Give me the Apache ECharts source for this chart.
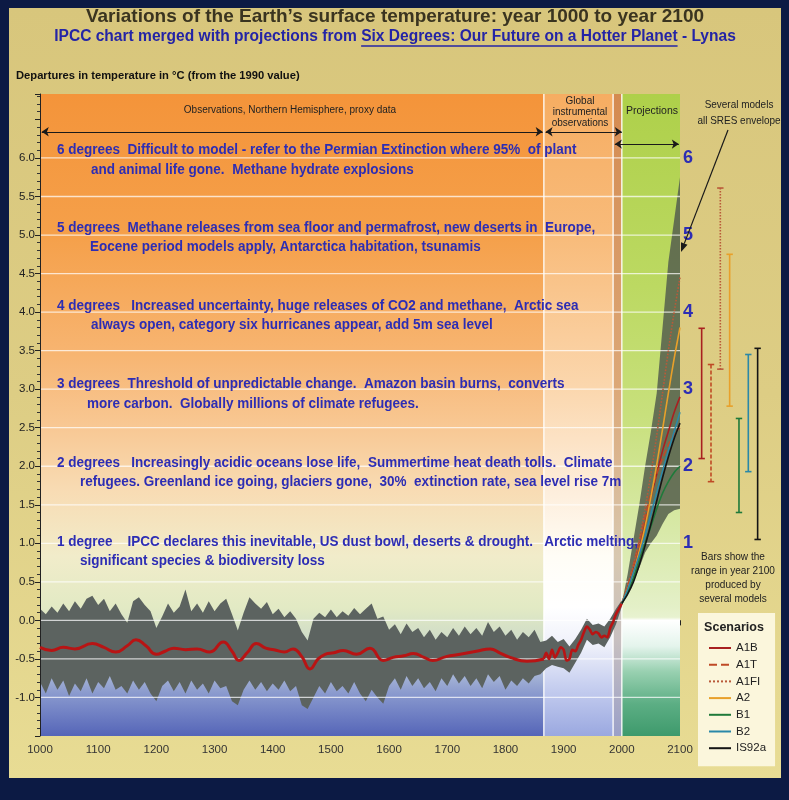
<!DOCTYPE html>
<html>
<head>
<meta charset="utf-8">
<title>Variations of the Earth's surface temperature</title>
<script src="https://cdn.jsdelivr.net/npm/echarts@6/dist/echarts.min.js"></script>
<style>
html,body{margin:0;padding:0;background:#0c1a44;}
#chart{width:789px;height:800px;}
</style>
</head>
<body>
<div id="chart"></div>
<script>
// ================= DATA =================
const yTickLabels = [-1.0,-0.5,0.0,0.5,1.0,1.5,2.0,2.5,3.0,3.5,4.0,4.5,5.0,5.5,6.0];
const degreeMarks = [1,2,3,4,5,6];

const regionStart = [1000, 1866, 1985, 2000];
const regionEnd   = [1866, 1985, 2000, 2100];

// uncertainty / annual-variability band, 1000-2000 every 10 years
const bandYears = [
 1000,1010,1020,1030,1040,1050,1060,1070,1080,1090,
 1100,1110,1120,1130,1140,1150,1160,1170,1180,1190,
 1200,1210,1220,1230,1240,1250,1260,1270,1280,1290,
 1300,1310,1320,1330,1340,1350,1360,1370,1380,1390,
 1400,1410,1420,1430,1440,1450,1460,1470,1480,1490,
 1500,1510,1520,1530,1540,1550,1560,1570,1580,1590,
 1600,1610,1620,1630,1640,1650,1660,1670,1680,1690,
 1700,1710,1720,1730,1740,1750,1760,1770,1780,1790,
 1800,1810,1820,1830,1840,1850,1860,1870,1880,1890,
 1900,1910,1920,1930,1940,1950,1960,1970,1980,1990,
 2000];
const bandHigh = [
 0.15,0.08,0.18,0.10,0.22,0.12,0.25,0.15,0.28,0.32,
 0.20,0.28,0.12,0.22,0.08,-0.03,0.25,0.30,0.20,0.12,
 -0.10,0.05,0.22,0.10,0.18,0.40,0.12,0.22,0.10,0.25,
 0.12,0.22,0.28,0.08,-0.13,0.10,0.30,0.22,0.15,0.24,
 0.08,0.15,0.04,0.12,0.02,-0.15,-0.26,0.02,0.10,0.04,
 0.14,0.04,0.12,0.06,0.16,0.08,0.15,0.22,0.02,0.05,
 -0.12,-0.05,-0.18,-0.04,-0.15,-0.10,-0.22,-0.12,-0.25,-0.15,
 -0.22,-0.10,-0.20,-0.08,-0.18,-0.10,-0.20,-0.02,-0.15,-0.08,
 -0.20,-0.12,-0.25,-0.15,-0.22,-0.12,-0.28,-0.26,-0.20,-0.28,
 -0.24,-0.34,-0.24,-0.12,0.02,-0.06,-0.04,-0.08,0.02,0.15,
 0.26];
const bandLow = [
 -0.80,-0.95,-0.75,-0.90,-0.78,-0.98,-0.82,-0.92,-0.75,-0.95,
 -0.80,-0.88,-0.72,-0.90,-0.85,-0.95,-0.78,-0.90,-0.80,-0.95,
 -1.05,-0.85,-0.78,-0.92,-0.80,-0.95,-0.78,-0.90,-0.82,-0.95,
 -0.78,-0.88,-0.85,-1.05,-1.10,-0.90,-0.78,-0.90,-0.80,-0.92,
 -0.82,-0.90,-0.78,-0.92,-0.85,-1.10,-1.15,-1.00,-0.85,-0.95,
 -0.80,-0.92,-0.85,-0.95,-0.80,-0.95,-1.05,-0.90,-1.00,-1.08,
 -0.85,-0.75,-0.90,-0.72,-0.85,-0.75,-0.88,-0.80,-0.92,-0.75,
 -0.85,-0.70,-0.82,-0.72,-0.85,-0.75,-0.88,-0.70,-0.80,-0.72,
 -0.90,-0.78,-0.85,-0.75,-0.82,-0.72,-0.70,-0.62,-0.58,-0.60,
 -0.62,-0.68,-0.55,-0.42,-0.25,-0.32,-0.30,-0.35,-0.22,-0.05,
 0.18];

// smoothed northern-hemisphere proxy reconstruction
const proxyYears = [1000,1020,1040,1060,1090,1110,1130,1150,1165,1182,1200,1215,1230,1250,1270,1292,1315,1330,1342,1356,1372,1388,1402,1420,1435,1450,1464,1478,1490,1505,1521,1544,1567,1590,1607,1625,1642,1660,1675,1698,1722,1750,1774,1790,1808,1837,1866];
const proxyTemp  = [-0.35,-0.39,-0.35,-0.37,-0.30,-0.35,-0.41,-0.33,-0.25,-0.33,-0.44,-0.40,-0.36,-0.38,-0.37,-0.41,-0.28,-0.40,-0.52,-0.42,-0.30,-0.36,-0.38,-0.41,-0.37,-0.47,-0.63,-0.50,-0.44,-0.42,-0.39,-0.44,-0.36,-0.52,-0.48,-0.46,-0.43,-0.48,-0.52,-0.47,-0.44,-0.40,-0.37,-0.42,-0.48,-0.53,-0.50];

// global instrumental record
const instYears = [1866,1870,1875,1880,1885,1890,1895,1900,1905,1910,1915,1920,1925,1930,1935,1940,1945,1950,1955,1960,1965,1970,1975,1980,1985,1990,1995,2000];
const instTemp  = [-0.50,-0.42,-0.50,-0.38,-0.48,-0.42,-0.35,-0.38,-0.52,-0.50,-0.38,-0.40,-0.32,-0.25,-0.15,-0.08,-0.12,-0.18,-0.15,-0.17,-0.22,-0.20,-0.22,-0.10,-0.02,0.08,0.15,0.22];

// projections 2000-2100
const projYears = [2000,2010,2020,2030,2040,2050,2060,2070,2080,2090,2100];
const envHigh = [0.22,0.60,1.05,1.50,2.00,2.45,2.95,3.80,4.65,5.20,5.75];
const envLow  = [0.22,0.36,0.50,0.68,0.88,1.00,1.10,1.25,1.38,1.43,1.45];
const scenNames = ['A1B','A1T','A1FI','A2','B1','B2','IS92a'];
const projA1B   = [0.22,0.42,0.65,0.92,1.25,1.60,1.90,2.20,2.45,2.70,2.90];
const projA1T   = [0.22,0.45,0.72,1.02,1.35,1.65,1.90,2.10,2.28,2.42,2.50];
const projA1FI  = [0.22,0.45,0.72,1.05,1.45,1.90,2.40,2.95,3.50,4.00,4.45];
const projA2    = [0.22,0.40,0.62,0.90,1.22,1.60,2.02,2.48,2.95,3.40,3.80];
const projB1    = [0.22,0.36,0.55,0.78,1.00,1.22,1.45,1.65,1.80,1.92,2.00];
const projB2    = [0.22,0.40,0.62,0.85,1.10,1.38,1.66,1.94,2.20,2.45,2.70];
const projIS92a = [0.22,0.34,0.50,0.72,0.97,1.25,1.55,1.85,2.12,2.36,2.56];

// ranges in year 2100 (bars)
const rangeLow  = [2.10,1.80,3.26,2.78,1.40,1.93,1.05];
const rangeHigh = [3.79,3.32,5.61,4.75,2.62,3.45,3.53];

// ================= STYLE / LAYOUT =================
const FONT = '"Liberation Sans",Arial,sans-serif';
const BLUE = '#2d2db4';
const Y_MIN = -1.5, Y_MAX = 6.83;
const scenColors = ['#a82020','#bf4a26','#b95a3a','#e8a02a','#1f7a3a','#2a88a8','#151515'];
const scenDash   = ['solid','dashed','dotted','solid','solid','solid','solid'];
const projSeriesData = [projA1B, projA1T, projA1FI, projA2, projB1, projB2, projIS92a];

const G = echarts.graphic;
function vGrad(stops){ return new G.LinearGradient(0,0,0,1, stops.map(s=>({offset:s[0], color:s[1]}))); }
const regionFills = [
  vGrad([[0,'#f4943a'],[0.22,'#f5a04a'],[0.40,'#f7b470'],[0.52,'#f8c894'],[0.62,'#f8dcb4'],[0.72,'#f1ecca'],[0.80,'#e2eac4'],[0.85,'#cfdcc8'],[0.89,'#b4c2da'],[0.94,'#8494cc'],[1,'#5565b8']]),
  vGrad([[0,'#f6ad62'],[0.22,'#f8bb7a'],[0.46,'#fbd7ae'],[0.62,'#fdeedc'],[0.72,'#fffdf6'],[0.80,'#ffffff'],[0.86,'#eef0fa'],[0.92,'#c8d0f0'],[1,'#9aa8e0']]),
  vGrad([[0,'#d48a50'],[0.46,'#dca878'],[0.72,'#d8c8b0'],[0.85,'#c8c0c0'],[1,'#9aa0c8']]),
  vGrad([[0,'#aed04a'],[0.3,'#bcd962'],[0.5,'#c8e07c'],[0.68,'#d8e9a8'],[0.80,'#e4f0c8'],[0.815,'#e8f2d0'],[0.82,'#ffffff'],[0.86,'#e4f4ec'],[0.90,'#98d0b0'],[0.95,'#5cae84'],[1,'#3e9a6c']])
];

function polygonRenderer(xs, lo, hi, fill){
  return function(params, api){
    if (params.dataIndex !== 0) return null;
    const pts = [];
    for (let i=0;i<xs.length;i++) pts.push(api.coord([xs[i], hi[i]]));
    for (let i=xs.length-1;i>=0;i--) pts.push(api.coord([xs[i], lo[i]]));
    return {type:'polygon', shape:{points:pts}, style:{fill:fill}};
  };
}

const series = [];
series.push({
  type:'custom', name:'regions', z:1, silent:true, xAxisIndex:0, yAxisIndex:0,
  data: regionStart.map((s,i)=>[s, regionEnd[i]]),
  encode:{x:[0,1]},
  renderItem:function(params, api){
    const i = params.dataIndex;
    const p0 = api.coord([regionStart[i], Y_MAX]);
    const p1 = api.coord([regionEnd[i], Y_MIN]);
    const children = [{type:'rect', shape:{x:p0[0], y:p0[1], width:p1[0]-p0[0], height:p1[1]-p0[1]}, style:{fill:regionFills[i]}}];
    if (i > 0) children.push({type:'line', shape:{x1:p0[0], y1:p0[1], x2:p0[0], y2:p1[1]}, style:{stroke:'rgba(255,255,255,0.85)', lineWidth:1.5}});
    return {type:'group', children:children};
  }
});
series.push({
  type:'custom', name:'band', z:2, silent:true, xAxisIndex:0, yAxisIndex:0,
  data: bandYears.map((x,i)=>[x, bandLow[i], bandHigh[i]]),
  encode:{x:0, y:[1,2]},
  renderItem: polygonRenderer(bandYears, bandLow, bandHigh, '#5c6360')
});
series.push({
  type:'custom', name:'envelope', z:2, silent:true, xAxisIndex:0, yAxisIndex:0,
  data: projYears.map((x,i)=>[x, envLow[i], envHigh[i]]),
  encode:{x:0, y:[1,2]},
  renderItem: polygonRenderer(projYears, envLow, envHigh, 'rgba(88,98,78,0.88)')
});
series.push({
  type:'custom', name:'gridlines', z:3, silent:true, xAxisIndex:0, yAxisIndex:0,
  data: yTickLabels.map(v=>[1000, v]),
  encode:{x:0, y:1},
  renderItem:function(params, api){
    const v = yTickLabels[params.dataIndex];
    const a = api.coord([1000, v]), b = api.coord([2100, v]);
    return {type:'line', shape:{x1:a[0], y1:a[1], x2:b[0], y2:b[1]}, style:{stroke:'rgba(255,255,255,0.72)', lineWidth:1.3}};
  },
  markLine:{
    silent:true, symbol:['arrow','arrow'], symbolSize:7, animation:false,
    label:{show:false},
    lineStyle:{color:'#1a1a1a', width:1, type:'solid'},
    data:[
      [{coord:[1003,6.34]},{coord:[1864,6.34]}],
      [{coord:[1869,6.34]},{coord:[2000,6.34]}],
      [{coord:[1988,6.18]},{coord:[2098,6.18]}]
    ]
  }
});
series.push({
  type:'line', name:'proxy', z:5, silent:true, xAxisIndex:0, yAxisIndex:0,
  data: proxyYears.map((x,i)=>[x, proxyTemp[i]]),
  smooth:0.5, symbol:'none', lineStyle:{color:'#b81414', width:3}
});
series.push({
  type:'line', name:'instrumental', z:5, silent:true, xAxisIndex:0, yAxisIndex:0,
  data: instYears.map((x,i)=>[x, instTemp[i]]),
  smooth:0.3, symbol:'none', lineStyle:{color:'#b81414', width:2.6}
});
scenNames.forEach((n,k)=>{
  series.push({
    type:'line', name:n, z:5, silent:true, xAxisIndex:0, yAxisIndex:0,
    data: projYears.map((x,i)=>[x, projSeriesData[k][i]]),
    smooth:0.3, symbol:'none',
    itemStyle:{color:scenColors[k]},
    lineStyle:{color:scenColors[k], width:1.6, type:scenDash[k]}
  });
});
series.push({
  type:'custom', name:'ranges', z:5, silent:true, xAxisIndex:1, yAxisIndex:2,
  data: scenNames.map((n,i)=>[i, rangeLow[i], rangeHigh[i]]),
  encode:{x:0, y:[1,2]},
  renderItem:function(params, api){
    const i = params.dataIndex;
    const t = api.coord([i, rangeHigh[i]]), b = api.coord([i, rangeLow[i]]);
    const c = scenColors[i];
    const dash = scenDash[i]==='dashed' ? [4,2] : (scenDash[i]==='dotted' ? [1.5,1.5] : null);
    const cap = 3.2;
    return {type:'group', children:[
      {type:'line', shape:{x1:t[0],y1:t[1],x2:b[0],y2:b[1]}, style:{stroke:c, lineWidth:1.6, lineDash:dash}},
      {type:'line', shape:{x1:t[0]-cap,y1:t[1],x2:t[0]+cap,y2:t[1]}, style:{stroke:c, lineWidth:1.6}},
      {type:'line', shape:{x1:b[0]-cap,y1:b[1],x2:b[0]+cap,y2:b[1]}, style:{stroke:c, lineWidth:1.6}}
    ]};
  }
});

// ================= TEXT =================
const titleText = 'Variations of the Earth\u2019s surface temperature: year 1000 to year 2100';
const subPre = 'IPCC chart merged with projections from ';
const subLink = 'Six Degrees: Our Future on a Hotter Planet';
const subPost = ' - Lynas';
const yAxisTitle = 'Departures in temperature in \u00b0C (from the 1990 value)';
const annotations = [
  ['6 degrees  Difficult to model - refer to the Permian Extinction where 95%  of plant', 57, 150],
  ['and animal life gone.  Methane hydrate explosions', 91, 170],
  ['5 degrees  Methane releases from sea floor and permafrost, new deserts in  Europe,', 57, 228],
  ['Eocene period models apply, Antarctica habitation, tsunamis', 90, 247],
  ['4 degrees   Increased uncertainty, huge releases of CO2 and methane,  Arctic sea', 57, 306],
  ['always open, category six hurricanes appear, add 5m sea level', 91, 325],
  ['3 degrees  Threshold of unpredictable change.  Amazon basin burns,  converts', 57, 384],
  ['more carbon.  Globally millions of climate refugees.', 87, 404],
  ['2 degrees   Increasingly acidic oceans lose life,  Summertime heat death tolls.  Climate', 57, 463],
  ['refugees. Greenland ice going, glaciers gone,  30%  extinction rate, sea level rise 7m', 80, 482],
  ['1 degree    IPCC declares this inevitable, US dust bowl, deserts & drought.   Arctic melting,', 57, 542],
  ['significant species & biodiversity loss', 80, 561]
];

const TITLE_FONT = 'bold 19px ' + FONT;
const SUB_FONT = 'bold 15.8px ' + FONT;
const SUB_SCALE = 0.985;
const mctx = document.createElement('canvas').getContext('2d');
function textW(t, f){ mctx.font = f; return mctx.measureText(t).width; }
const subW = textW(subPre+subLink+subPost, SUB_FONT) * SUB_SCALE;
const subX0 = 395 - subW/2;
const ulX1 = subX0 + textW(subPre, SUB_FONT) * SUB_SCALE;
const ulX2 = ulX1 + textW(subLink, SUB_FONT) * SUB_SCALE;

function txt(t, x, y, font, fill, align, sx){
  return {type:'text', z:100, silent:true, x:x, y:y, scaleX:sx||1,
    style:{text:t, x:0, y:0, font:font, fill:fill, textAlign:align||'left', textVerticalAlign:'middle'}};
}
const graphics = [
  {type:'rect', z:-100, silent:true, shape:{x:9, y:8, width:772, height:770},
   style:{fill:vGrad([[0,'#d8c67c'],[0.5,'#ddcd84'],[1,'#e8dc94']])}},
  txt(titleText, 395, 17, TITLE_FONT, '#3a3420', 'center'),
  txt(subPre+subLink+subPost, 395, 37, SUB_FONT, '#2424a6', 'center', SUB_SCALE),
  {type:'line', z:100, silent:true, shape:{x1:ulX1, y1:46, x2:ulX2, y2:46}, style:{stroke:'#2424a6', lineWidth:1.3}},
  txt(yAxisTitle, 16, 76, 'bold 11.2px ' + FONT, '#111', 'left'),
  txt('Observations, Northern Hemisphere, proxy data', 290, 110, '10px ' + FONT, '#222', 'center'),
  txt('Global', 580, 101, '10px ' + FONT, '#222', 'center'),
  txt('instrumental', 580, 112, '10px ' + FONT, '#222', 'center'),
  txt('observations', 580, 123, '10px ' + FONT, '#222', 'center'),
  txt('Projections', 652, 111, '10.5px ' + FONT, '#222', 'center'),
  txt('Several models', 739, 105, '10.5px ' + FONT, '#222', 'center', 0.95),
  txt('all SRES envelope', 739, 121, '10.5px ' + FONT, '#222', 'center', 0.95),
  txt('Bars show the', 733, 557, '10.6px ' + FONT, '#222', 'center', 0.95),
  txt('range in year 2100', 733, 571, '10.6px ' + FONT, '#222', 'center', 0.95),
  txt('produced by', 733, 585, '10.6px ' + FONT, '#222', 'center', 0.95),
  txt('several models', 733, 599, '10.6px ' + FONT, '#222', 'center', 0.95),
  txt('Scenarios', 734, 628, 'bold 12.5px ' + FONT, '#222', 'center')
];
annotations.forEach(a=>graphics.push(txt(a[0], a[1], a[2], 'bold 14px ' + FONT, BLUE, 'left', 0.965)));
(function(){
  const x1=728, y1=130, x2=681, y2=252;
  const dx=x2-x1, dy=y2-y1, L=Math.sqrt(dx*dx+dy*dy), ux=dx/L, uy=dy/L;
  const hl=9, hw=3.5;
  const bx=x2-ux*hl, by=y2-uy*hl;
  graphics.push({type:'line', z:100, silent:true, shape:{x1:x1,y1:y1,x2:bx,y2:by}, style:{stroke:'#1a1a1a', lineWidth:1.2}});
  graphics.push({type:'polygon', z:100, silent:true, shape:{points:[[x2,y2],[bx-uy*hw,by+ux*hw],[bx+uy*hw,by-ux*hw]]}, style:{fill:'#1a1a1a'}});
})();

// ================= CHART =================
const chart = echarts.init(document.getElementById('chart'));
chart.setOption({
  animation:false,
  backgroundColor:'#0c1a44',
  grid:[
    {left:40, right:109, top:94, bottom:64},
    {left:697, width:65.3, top:94, bottom:64}
  ],
  xAxis:[
    {type:'value', gridIndex:0, min:1000, max:2100, interval:100,
     axisLine:{lineStyle:{color:'#222', width:1}},
     axisTick:{length:5, lineStyle:{color:'#222'}},
     axisLabel:{color:'#333', fontSize:11.5, fontFamily:FONT, margin:8, formatter:function(v){ return String(v); }},
     splitLine:{show:false}},
    {type:'category', gridIndex:1, data:scenNames, show:false}
  ],
  yAxis:[
    {type:'value', gridIndex:0, min:Y_MIN, max:Y_MAX, interval:0.5, z:3,
     axisLine:{show:true, lineStyle:{color:'#222', width:1}},
     axisTick:{show:true, length:5, lineStyle:{color:'#222'}},
     minorTick:{show:true, splitNumber:5, length:3, lineStyle:{color:'#333'}},
     splitLine:{show:false},
     axisLabel:{color:'#222', fontSize:11.5, fontFamily:FONT, margin:5,
       formatter:function(v){ return yTickLabels.some(t=>Math.abs(t-v)<1e-6) ? v.toFixed(1) : ''; }}},
    {type:'value', gridIndex:0, position:'right', min:Y_MIN, max:Y_MAX, interval:0.5,
     axisLine:{show:false}, axisTick:{show:false}, splitLine:{show:false},
     axisLabel:{color:BLUE, fontSize:18, fontWeight:'bold', fontFamily:FONT, margin:3,
       formatter:function(v){ return degreeMarks.some(t=>Math.abs(t-v)<1e-6) ? String(Math.round(v)) : ''; }}},
    {type:'value', gridIndex:1, min:Y_MIN, max:Y_MAX, show:false}
  ],
  legend:{
    data:scenNames, orient:'vertical', left:698, top:613,
    backgroundColor:'#fbf6dc', padding:[29,9,12,10],
    itemWidth:22, itemHeight:12, itemGap:4.7, selectedMode:false,
    itemStyle:{opacity:0, color:'rgba(0,0,0,0)', borderWidth:0},
    textStyle:{fontSize:11.5, color:'#222', fontFamily:FONT, lineHeight:12}
  },
  graphic:graphics,
  series:series
});
</script>
</body>
</html>
